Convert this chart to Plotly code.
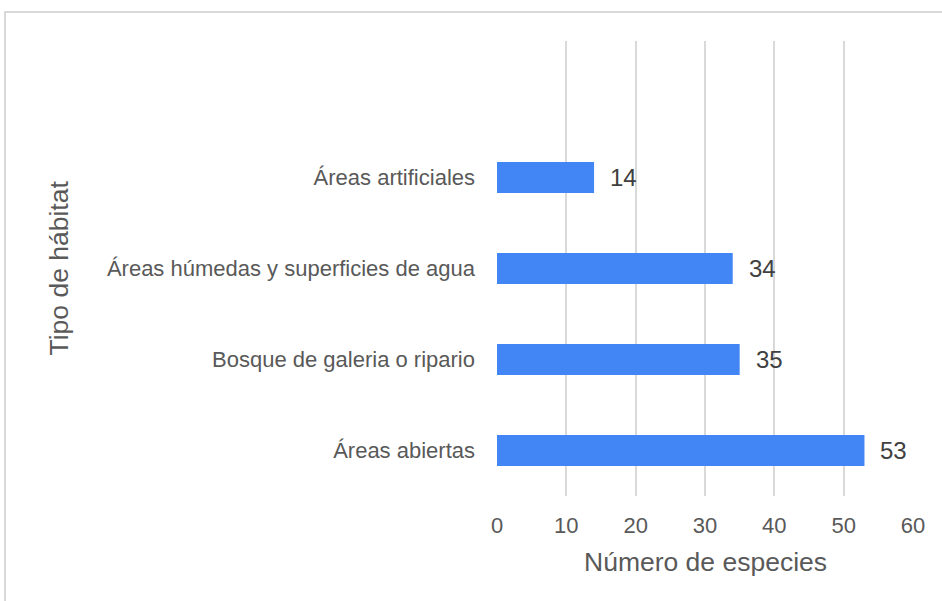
import plotly.graph_objects as go

categories = ["Áreas abiertas", "Bosque de galeria o ripario",
              "Áreas húmedas y superficies de agua", "Áreas artificiales"]
values = [53, 35, 34, 14]
x_ticks = [0, 10, 20, 30, 40, 50, 60]

L, R, T, B = 497, 29, 41, 105
W, H = 942, 601
pw, ph = W - L - R, H - T - B

fig = go.Figure()
fig.add_trace(go.Bar(
    y=categories, x=values, orientation="h",
    marker=dict(color="#4285f4", line=dict(width=0)),
    width=0.34, hoverinfo="skip",
))

for c, v in zip(categories, values):
    fig.add_annotation(x=v, y=c, text=str(v), showarrow=False,
                       xanchor="left", xshift=14,
                       font=dict(family="Liberation Sans, Arial", size=24, color="#404040"))

fig.add_annotation(xref="paper", yref="paper", x=0.5, y=(H - B - 562) / ph,
                   text="Número de especies", showarrow=False,
                   xanchor="center", yanchor="middle",
                   font=dict(family="Liberation Sans, Arial", size=26.5, color="#595959"))
fig.add_annotation(xref="paper", yref="paper", x=(58 - L) / pw, y=0.5,
                   text="Tipo de hábitat", showarrow=False, textangle=-90,
                   xanchor="center", yanchor="middle",
                   font=dict(family="Liberation Sans, Arial", size=26.5, color="#595959"))

fig.add_shape(type="rect", xref="paper", yref="paper",
              x0=(5 - L) / pw, x1=(950 - L) / pw,
              y0=(H - B - 620) / ph, y1=(H - B - 12) / ph,
              line=dict(color="#d9d9d9", width=2), fillcolor="rgba(0,0,0,0)", layer="below")

fig.update_layout(
    width=W, height=H,
    margin=dict(l=L, r=R, t=T, b=B, autoexpand=False),
    paper_bgcolor="white", plot_bgcolor="white",
    showlegend=False,
    font=dict(family="Liberation Sans, Arial", size=22, color="#595959"),
    xaxis=dict(range=[0, 60], tickvals=x_ticks, showgrid=True,
               gridcolor="#d9d9d9", gridwidth=1.5, zeroline=False,
               showline=False, ticks="", ticklabelstandoff=14,
               tickfont=dict(size=22, color="#595959"), fixedrange=True),
    yaxis=dict(type="category", categoryorder="array", categoryarray=categories,
               range=[-0.5, 4.5], showgrid=False, zeroline=False, showline=False,
               ticks="", ticklabelstandoff=21,
               tickfont=dict(size=22, color="#595959"), fixedrange=True),
)

fig.write_html("out.html", config={"displayModeBar": False},
               post_script="document.body.style.margin='0';document.body.style.overflow='hidden';")
